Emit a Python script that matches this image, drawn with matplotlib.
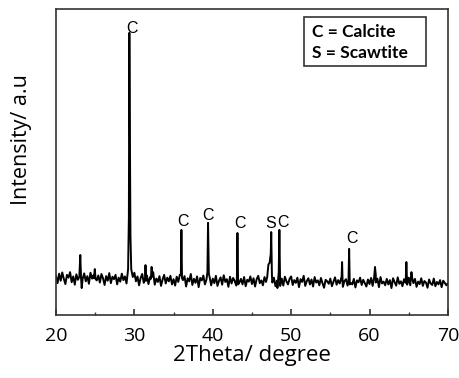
import matplotlib.pyplot as plt
from matplotlib.patches import Rectangle
import numpy as np

# baseline noise, 0.2 deg steps from 20 to 70
base_start, base_step = 20.0, 0.2
base_y = [
    128, 104, 135, 112, 139, 118, 101, 131, 122, 140, 107, 126, 99, 133, 115, 124, 92, 118, 136, 110, 127, 102, 138, 119, 130,
    141, 113, 129, 106, 134, 120, 98, 127, 112, 137, 104, 125, 117, 131, 100, 122, 109, 135, 114, 126, 103, 130, 118, 140, 124,
    138, 110, 126, 97, 121, 134, 105, 118, 129, 101, 124, 113, 136, 99, 119, 108, 127, 95, 116, 131, 103, 122, 110, 128, 100,
    117, 96, 125, 108, 131, 102, 114, 127, 93, 120, 110, 134, 98, 118, 105, 126, 91, 121, 113, 129, 100, 116, 107, 124, 97,
    119, 104, 128, 95, 112, 123, 99, 130, 108, 117, 92, 125, 103, 121, 111, 96, 127, 106, 118, 100, 124, 94, 115, 109, 126,
    101, 120, 93, 117, 128, 104, 113, 97, 124, 108, 131, 99, 116, 106, 122, 94, 112, 127, 103, 119, 96, 125, 110, 100, 118,
    126, 98, 114, 105, 122, 91, 117, 108, 128, 95, 111, 120, 100, 116, 93, 124, 106, 113, 97, 121, 104, 89, 115, 110, 102,
    119, 94, 108, 123, 99, 114, 103, 120, 92, 111, 117, 96, 125, 105, 100, 118, 90, 113, 107, 122, 98, 115, 104, 93, 116,
    101, 121, 95, 112, 106, 119, 91, 124, 103, 109, 97, 118, 100, 114, 88, 120, 107, 96, 123, 102, 110, 94, 117, 105, 99,
    122, 97, 113, 104, 118, 92, 109, 101, 120, 95, 111, 106, 89, 116, 103, 98, 119, 94, 108, 100, 114, 91, 112, 105, 97,
    104,
]

# peak points (2theta, intensity)
peaks = [
    ([22.98, 23.1, 23.2, 23.28], [125, 196, 120, 88]),
    ([24.85, 24.95, 25.05], [120, 150, 118]),
    ([29.2, 29.3, 29.36, 29.42, 29.5, 29.6], [150, 320, 922, 640, 260, 150]),
    ([31.35, 31.42, 31.5], [115, 163, 112]),
    ([32.1, 32.2, 32.3, 32.4], [118, 157, 125, 140]),
    ([35.93, 36.0, 36.08], [130, 278, 120]),
    ([39.32, 39.4, 39.5], [140, 301, 135]),
    ([43.08, 43.15, 43.24], [120, 268, 100]),
    ([46.95, 47.1, 47.25, 47.4, 47.46, 47.55], [125, 165, 170, 200, 271, 130]),
    ([48.25, 48.42, 48.5, 48.6], [88, 140, 278, 95]),
    ([56.43, 56.5, 56.57], [115, 173, 105]),
    ([57.32, 57.4, 57.48], [110, 216, 100]),
    ([60.6, 60.7, 60.8], [125, 157, 130]),
    ([64.62, 64.7, 64.78], [110, 173, 112]),
    ([65.35, 65.45], [140, 120]),
]

# phase labels
label_text = ['C', 'C', 'C', 'C', 'S', 'C', 'C']
label_x = [29.75, 36.2, 39.45, 43.5, 47.4, 49.0, 57.8]
label_y = [935, 305, 325, 300, 300, 302, 250]

legend_lines = ['C = Calcite', 'S = Scawtite']

bx = base_start + base_step * np.arange(len(base_y))
by = np.array(base_y, dtype=float)
keep = np.ones(len(bx), dtype=bool)
for px, py in peaks:
    keep &= ~((bx >= min(px)) & (bx <= max(px)))
x = list(bx[keep])
y = list(by[keep])
for px, py in peaks:
    x += px
    y += py
order = np.argsort(x)
x = np.array(x)[order]
y = np.array(y)[order]

plt.rcParams['font.family'] = ['Open Sans', 'DejaVu Sans']

fig = plt.figure(figsize=(4.6, 3.78), dpi=100)
ax = fig.add_axes([0.1217, 0.1667, 0.852, 0.8095])
ax.plot(x, y, color='black', lw=1.4)

for t, tx, ty in zip(label_text, label_x, label_y):
    ax.text(tx, ty, t, ha='center', va='center', fontsize=11.5,
            family='Liberation Sans')

# legend box
ax.add_patch(Rectangle((0.633, 0.814), 0.311, 0.160, transform=ax.transAxes,
                       fc='white', ec='#333333', lw=1.2, zorder=3))
for line, ly in zip(legend_lines, [0.925, 0.856]):
    ax.text(0.653, ly, line, transform=ax.transAxes, fontsize=12.5,
            fontweight='bold', family='Lato', va='center', ha='left', zorder=4)

ax.set_xlim(20, 70)
ax.set_ylim(0, 1000)
ax.set_xticks([20, 30, 40, 50, 60, 70])
ax.set_xticks(np.arange(20, 71, 5), minor=True)
ax.set_yticks([])
ax.tick_params(axis='x', which='major', direction='in', length=4, width=1.2,
               labelsize=14, pad=9, color='#333333')
ax.tick_params(axis='x', which='minor', direction='in', length=2.5, width=1.0,
               color='#333333')
for s in ax.spines.values():
    s.set_color('#333333')
    s.set_linewidth(1.2)

ax.set_xlabel('2Theta/ degree', fontsize=16, labelpad=0)
ax.set_ylabel('Intensity/ a.u', fontsize=15.5)
ax.yaxis.set_label_coords(-0.06, 0.572)

fig.savefig('out.png', dpi=100)
